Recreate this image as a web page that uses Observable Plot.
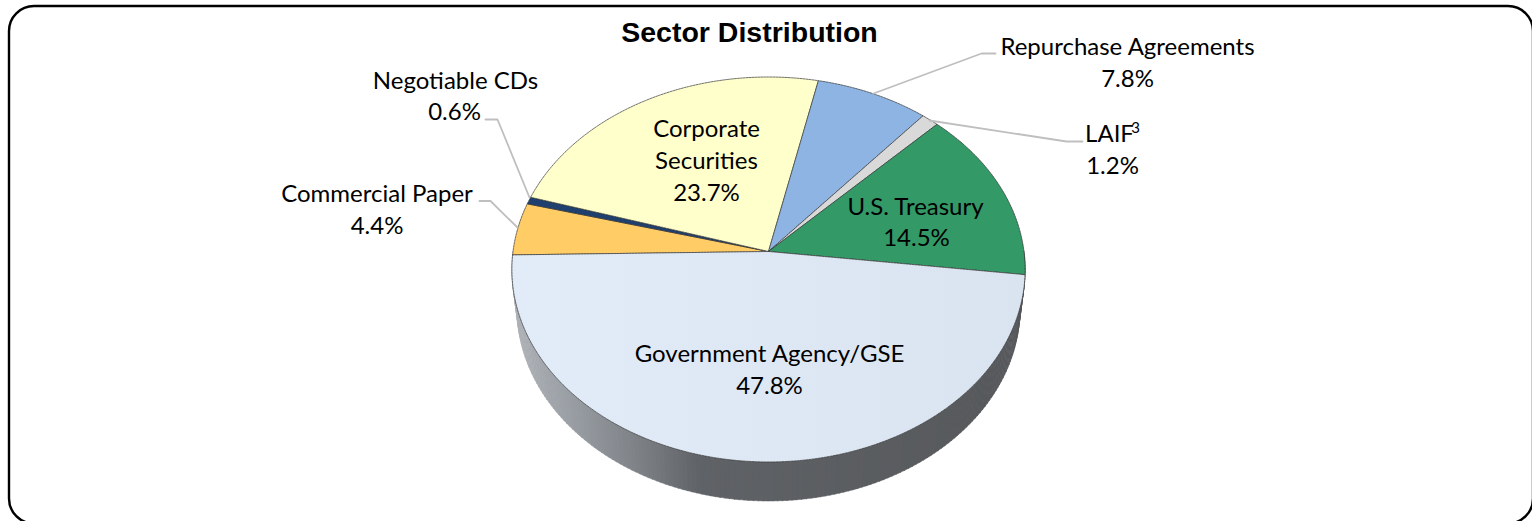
<!DOCTYPE html>
<html><head><meta charset="utf-8">
<script src="https://cdn.jsdelivr.net/npm/d3@7"></script>
<script src="https://cdn.jsdelivr.net/npm/@observablehq/plot@0.6"></script>
<style>html,body{margin:0;padding:0;background:#fff;overflow:hidden}svg{display:block}</style>
</head><body><div id="chart"></div>
<script>
// Data
const sectors = ["Government Agency/GSE","Commercial Paper","Negotiable CDs","Corporate Securities","Repurchase Agreements","LAIF","U.S. Treasury"];
const shares = [47.8,4.4,0.6,23.7,7.8,1.2,14.5];
const colors = ["#dfe8f5","#ffcc66","#1f3f6f","#ffffcc","#8eb4e3","#d9d9d9","#339966"];
const title = "Sector Distribution";

// Layout of the pie (pixel-domain scales below)
const W = 1532, H = 521;
const cx = 768, cy = 251, R = 255.5, S = 190.8, C = -0.0934, depth = 39, wallScale = 0.98;
const start = 96.9 * Math.PI / 180;
const project = a => {
  const u = Math.sin(a), v = -Math.cos(a), w = 1 / (1 + C * v);
  return [cx + R * u * w, cy + S * v * w];
};
const arcs = d3.pie().sort(null).value(d => d).startAngle(start).endAngle(start + 2 * Math.PI)(shares);
const slices = arcs.flatMap((arc, i) => {
  const n = Math.max(2, Math.ceil((arc.endAngle - arc.startAngle) * 60));
  const rim = d3.range(n + 1).map(j => project(arc.startAngle + (arc.endAngle - arc.startAngle) * j / n));
  return [[cx, cy], ...rim, [cx, cy]].map(([x, y]) => ({x, y, name: sectors[i], color: colors[i]}));
});

// Side wall: quads between the front rim and the lower rim
const sideStops = d3.scaleLinear().domain([512, 570, 640, 700, 1025]).range(["#b0b4b9", "#9a9fa5", "#7d8186", "#5f6266", "#56585b"]);
const lower = ([x, y]) => [cx + (x - cx) * wallScale, y + depth];
const wall = d3.range(0, 180).flatMap(i => {
  const a0 = Math.PI / 2 + i * Math.PI / 180, a1 = a0 + 1.2 * Math.PI / 180;
  const p0 = project(a0), p1 = project(a1);
  const color = sideStops((lower(p0)[0] + lower(p1)[0]) / 2);
  return [p0, p1, lower(p1), lower(p0), p0].map(([x, y]) => ({x, y, id: i, color}));
});

const leaders = [
  {id: "repo", pts: [[873, 93], [981, 53], [995, 53]]},
  {id: "laif", pts: [[929, 120], [1066, 141], [1082, 141]]},
  {id: "cds", pts: [[529, 197], [497, 119], [485, 119]]},
  {id: "cp", pts: [[517, 227], [490, 200.5], [479, 200.5]]}
].flatMap(l => l.pts.map(([x, y]) => ({x, y, id: l.id})));

const labels = [
  ["Repurchase Agreements", 1127, 47], ["7.8%", 1127, 79],
  ["LAIF", 1109, 134], ["1.2%", 1112, 166],
  ["Negotiable CDs", 455, 81], ["0.6%", 454, 112],
  ["Commercial Paper", 376.5, 194], ["4.4%", 376.5, 226],
  ["Corporate", 706, 129], ["Securities", 706, 161], ["23.7%", 706, 193],
  ["U.S. Treasury", 915, 207], ["14.5%", 916, 238],
  ["Government Agency/GSE", 769, 354], ["47.8%", 769, 386]
].map(([text, x, y]) => ({text, x, y}));
const footnoteMark = [{text: "3", x: 1135, y: 128}];

const defs = () => {
  const g = d3.create("svg:defs");
  const lg = g.append("linearGradient").attr("id", "govFill").attr("gradientUnits", "userSpaceOnUse")
    .attr("x1", 512).attr("y1", 300).attr("x2", 1025).attr("y2", 300);
  lg.append("stop").attr("offset", 0).attr("stop-color", "#e2ecf8");
  lg.append("stop").attr("offset", 1).attr("stop-color", "#dae4f1");
  return g.node();
};

const chart = Plot.plot({
  width: W, height: H, margin: 0,
  x: {domain: [0, W], range: [0, W], axis: null},
  y: {domain: [0, H], range: [0, H], axis: null},
  marks: [
    defs,
    Plot.rect([{x1: 9, x2: 1533, y1: 6, y2: 523.5}], {x1: "x1", x2: "x2", y1: "y1", y2: "y2", rx: 25, fill: "none", stroke: "#000", strokeWidth: 2.4}),
    Plot.line(wall, {x: "x", y: "y", z: "id", fill: "color", stroke: "color", strokeWidth: 0.5, curve: "linear"}),
    Plot.line(slices.filter(d => d.name !== sectors[0]), {x: "x", y: "y", z: "name", fill: "color", stroke: "#333", strokeWidth: 0.7, strokeDasharray: "2 1", curve: "linear"}),
    Plot.line(slices.filter(d => d.name === sectors[0]), {x: "x", y: "y", fill: "url(#govFill)", stroke: "#333", strokeWidth: 0.7, strokeDasharray: "2 1", curve: "linear"}),
    Plot.line(leaders, {x: "x", y: "y", z: "id", stroke: "#bfbfbf", strokeWidth: 1.8}),
    Plot.text(labels, {x: "x", y: "y", text: "text", fontFamily: "Lato", fontSize: 24, fill: "#000"}),
    Plot.text(footnoteMark, {x: "x", y: "y", text: "text", fontFamily: "Lato", fontSize: 15, fill: "#000"}),
    Plot.text([title], {x: () => 749, y: () => 32.5, text: d => d, fontFamily: "Liberation Sans", fontWeight: "bold", fontSize: 28.5, fill: "#000"})
  ]
});
document.getElementById("chart").append(chart);
</script></body></html>
